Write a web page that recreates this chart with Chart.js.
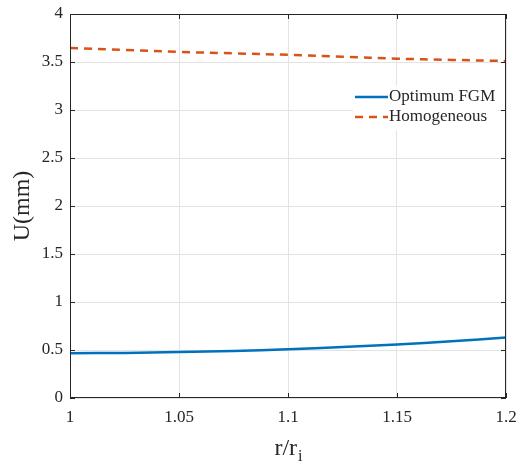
<!DOCTYPE html>
<html>
<head>
<meta charset="utf-8">
<script src="https://cdn.jsdelivr.net/npm/chart.js@4/dist/chart.umd.min.js"></script>
<style>
  html, body { margin:0; padding:0; background:#fff; }
  #wrap { width:516px; height:465px; position:relative; }
</style>
</head>
<body>
<div id="wrap"><canvas id="chartU"></canvas></div>
<script>
// ── data ──
const rRatio      = [1, 1.025, 1.05, 1.075, 1.1, 1.125, 1.15, 1.175, 1.2];
const uOptimumFGM = [0.466, 0.470, 0.478, 0.490, 0.508, 0.530, 0.558, 0.590, 0.629];
const uHomogen    = [3.646, 3.625, 3.605, 3.590, 3.575, 3.555, 3.535, 3.522, 3.510];
const xTicks      = [1, 1.05, 1.1, 1.15, 1.2];
const yTicks      = [0, 0.5, 1, 1.5, 2, 2.5, 3, 3.5, 4];
const seriesNames = ['Optimum FGM', 'Homogeneous'];

const FONT = "'Liberation Serif', 'Times New Roman', serif";
const AXIS = '#262626';
const BLUE = '#0072BD';
const ORANGE = '#D95319';

// legend, box, inward ticks and axis titles (MATLAB look)
const matlabFrame = {
  id: 'matlabFrame',
  afterDraw(chart) {
    const { ctx, chartArea: a, scales: { x, y } } = chart;
    ctx.save();

    // legend (white patch, no border)
    ctx.fillStyle = '#fff';
    ctx.fillRect(353, 86, 145, 44);
    ctx.lineWidth = 2.5;
    ctx.strokeStyle = BLUE;
    ctx.beginPath(); ctx.moveTo(355, 97); ctx.lineTo(388, 97); ctx.stroke();
    ctx.strokeStyle = ORANGE;
    ctx.setLineDash([8, 6]);
    ctx.beginPath(); ctx.moveTo(355, 117); ctx.lineTo(388, 117); ctx.stroke();
    ctx.setLineDash([]);
    ctx.fillStyle = AXIS;
    ctx.font = '17px ' + FONT;
    ctx.textBaseline = 'middle';
    ctx.textAlign = 'left';
    ctx.fillText(seriesNames[0], 389, 97);
    ctx.fillText(seriesNames[1], 389, 117);

    // box + inward ticks
    ctx.strokeStyle = AXIS;
    ctx.lineWidth = 1;
    ctx.strokeRect(a.left + 0.5, a.top + 0.5, a.right - a.left - 1, a.bottom - a.top - 1);
    const tl = 5;
    ctx.beginPath();
    xTicks.forEach(v => {
      const px = Math.round(x.getPixelForValue(v)) + 0.5;
      ctx.moveTo(px, a.bottom); ctx.lineTo(px, a.bottom - tl);
      ctx.moveTo(px, a.top); ctx.lineTo(px, a.top + tl);
    });
    yTicks.forEach(v => {
      const py = Math.round(y.getPixelForValue(v)) + 0.5;
      ctx.moveTo(a.left, py); ctx.lineTo(a.left + tl, py);
      ctx.moveTo(a.right, py); ctx.lineTo(a.right - tl, py);
    });
    ctx.stroke();

    // y title
    ctx.font = '24px ' + FONT;
    ctx.save();
    ctx.translate(23, (a.top + a.bottom) / 2);
    ctx.rotate(-Math.PI / 2);
    ctx.textAlign = 'center';
    ctx.fillText('U(mm)', 0, 0);
    ctx.restore();

    // x title with subscript
    const cx = (a.left + a.right) / 2;
    const main = 'r/r';
    const w1 = ctx.measureText(main).width;
    ctx.font = '16px ' + FONT;
    const w2 = ctx.measureText('i').width;
    const sx = cx - (w1 + w2) / 2;
    ctx.font = '24px ' + FONT;
    ctx.textAlign = 'left';
    ctx.textBaseline = 'alphabetic';
    ctx.fillText(main, sx, 455);
    ctx.font = '16px ' + FONT;
    ctx.fillText('i', sx + w1 + 1, 461);
    ctx.restore();
  }
};

new Chart(document.getElementById('chartU').getContext('2d'), {
  type: 'line',
  data: {
    datasets: [
      {
        label: seriesNames[0],
        data: rRatio.map((r, i) => ({ x: r, y: uOptimumFGM[i] })),
        borderColor: BLUE,
        borderWidth: 2.5,
        pointRadius: 0,
        tension: 0.4,
        fill: false,
      },
      {
        label: seriesNames[1],
        data: rRatio.map((r, i) => ({ x: r, y: uHomogen[i] })),
        borderColor: ORANGE,
        borderWidth: 2.5,
        borderDash: [8, 6],
        pointRadius: 0,
        tension: 0.4,
        fill: false,
      }
    ]
  },
  options: {
    responsive: true, maintainAspectRatio: false, animation: false,
    layout: { padding: { top: 14, right: 10, left: 0, bottom: 0 } },
    plugins: { legend: { display: false }, tooltip: { enabled: false } },
    scales: {
      x: {
        type: 'linear', min: 1, max: 1.2,
        afterBuildTicks: s => { s.ticks = xTicks.map(v => ({ value: v })); },
        afterFit: s => { s.height = 67; s.paddingLeft = 0; s.paddingRight = 0; },
        grid: { color: '#e3e3e3', drawTicks: false },
        border: { display: false },
        ticks: { color: AXIS, font: { family: FONT, size: 17 }, padding: 9, maxRotation: 0,
                 callback: v => String(+v.toFixed(2)) },
      },
      y: {
        type: 'linear', min: 0, max: 4,
        afterBuildTicks: s => { s.ticks = yTicks.map(v => ({ value: v })); },
        afterFit: s => { s.width = 70; s.paddingTop = 0; s.paddingBottom = 0; },
        grid: { color: '#e3e3e3', drawTicks: false },
        border: { display: false },
        ticks: { color: AXIS, font: { family: FONT, size: 17 }, padding: 7,
                 callback: v => String(+v.toFixed(2)) },
      }
    }
  },
  plugins: [matlabFrame]
});
</script>
</body>
</html>
